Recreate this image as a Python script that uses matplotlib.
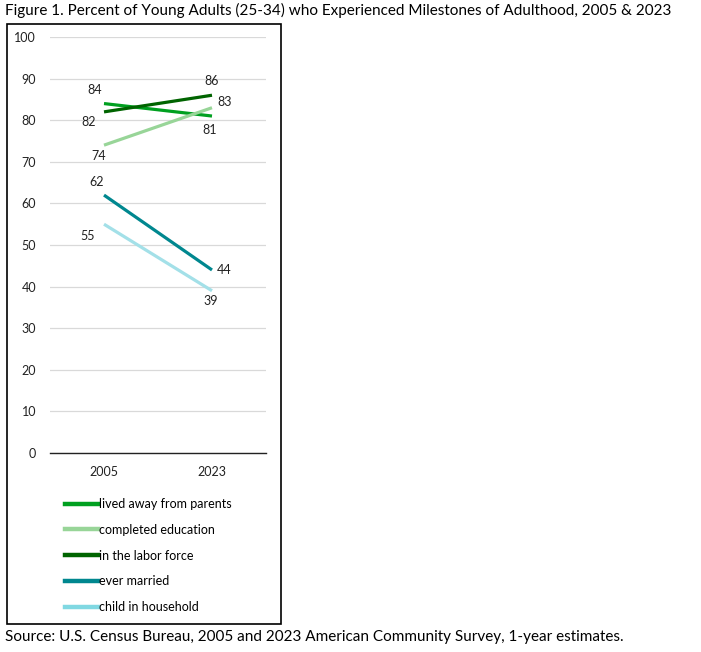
import matplotlib

matplotlib.use("Agg")
import matplotlib.pyplot as plt
from matplotlib.patches import Rectangle

years = ["2005", "2023"]
series_names = [
    "lived away from parents",
    "completed education",
    "in the labor force",
    "ever married",
    "child in household",
]
lived_away = [84, 81]
completed_education = [74, 83]
labor_force = [82, 86]
ever_married = [62, 44]
child_in_household = [55, 39]

series_values = [lived_away, completed_education, labor_force, ever_married, child_in_household]
colors = ["#00a020", "#98d598", "#006400", "#00878f", "#a3e0e8"]
legend_colors = ["#00a020", "#98d598", "#006400", "#00878f", "#80d8e2"]
# label offsets in points (dx, dy) for 2005 and 2023 endpoints
label_offsets = [
    [(-7, 10), (-1.5, -10)],
    [(-3.5, -7.5), (9, 4)],
    [(-11, -7.5), (0, 10.5)],
    [(-5, 9.5), (9, 0)],
    [(-12, -8.5), (-1, -7.5)],
]

plt.rcParams["font.family"] = ["Lato", "DejaVu Sans"]

fig = plt.figure(figsize=(7.01, 6.52), dpi=100)
fig.patches.append(
    Rectangle((7 / 701, 1 - 624 / 652), 274 / 701, 600 / 652,
              transform=fig.transFigure, fill=False, edgecolor="black", linewidth=1.2)
)

ax = fig.add_axes([50 / 701, 1 - 453 / 652, 216 / 701, 416 / 652])
x = list(range(len(years)))
for name, vals, col, offs in zip(series_names, series_values, colors, label_offsets):
    ax.plot(x, vals, color=col, linewidth=2.3, solid_capstyle="butt")
    for xi, v, (dx, dy) in zip(x, vals, offs):
        ax.annotate(str(v), (xi, v), xytext=(dx, dy), textcoords="offset points",
                    ha="center", va="center", fontsize=9, color="#222222")

ax.set_xlim(-0.5, 1.5)
ax.set_ylim(0, 100)
ax.set_yticks(range(0, 101, 10))
ax.set_xticks(x)
ax.set_xticklabels(years)
ax.tick_params(axis="both", length=0, labelsize=9, colors="#222222")
ax.tick_params(axis="y", pad=10)
ax.tick_params(axis="x", pad=9)
ax.grid(axis="y", color="#d9d9d9", linewidth=0.9)
ax.set_axisbelow(True)
for side in ("top", "right", "left"):
    ax.spines[side].set_visible(False)
ax.spines["bottom"].set_color("#222222")
ax.spines["bottom"].set_linewidth(1.0)

handles = [plt.Line2D([], [], color=c, linewidth=3.2) for c in legend_colors]
fig.legend(handles, series_names, loc="upper left",
           bbox_to_anchor=(60 / 701, 1 - 493 / 652), frameon=False,
           fontsize=9, handlelength=2.6, handletextpad=0.15, labelspacing=1.1,
           borderaxespad=0)

fig.text(5 / 701, 1 - 10 / 652, "Figure 1. Percent of Young Adults (25-34) who Experienced "
         "Milestones of Adulthood, 2005 & 2023", ha="left", va="center", fontsize=11)
fig.text(5 / 701, 1 - 637 / 652, "Source: U.S. Census Bureau, 2005 and 2023 American "
         "Community Survey, 1-year estimates.", ha="left", va="center", fontsize=11)

fig.savefig("out.png", dpi=100)
